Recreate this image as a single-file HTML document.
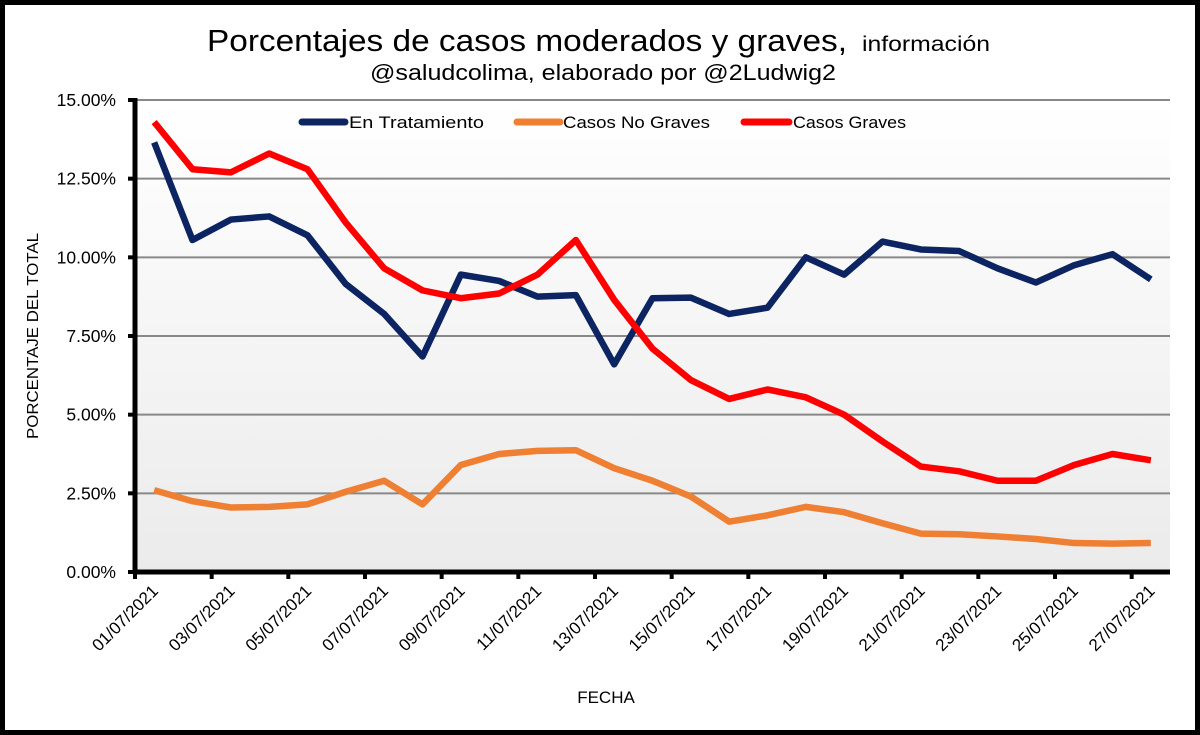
<!DOCTYPE html>
<html><head><meta charset="utf-8"><style>
html,body{margin:0;padding:0;background:#fff}
svg{display:block;font-family:"Liberation Sans",sans-serif}
</style></head><body>
<svg width="1200" height="735" viewBox="0 0 1200 735">
<defs><linearGradient id="bg" x1="0" y1="0" x2="0" y2="1"><stop offset="0" stop-color="#ffffff"/><stop offset="1" stop-color="#ebebeb"/></linearGradient></defs>
<rect x="2.5" y="2.5" width="1195" height="730" fill="#fff" stroke="#000" stroke-width="5"/>
<rect x="135" y="100" width="1035" height="472" fill="url(#bg)"/>
<text x="207" y="51" font-size="31" textLength="640" lengthAdjust="spacingAndGlyphs">Porcentajes de casos moderados y graves,</text>
<text x="862" y="51" font-size="21" textLength="128" lengthAdjust="spacingAndGlyphs">información</text>
<text x="370" y="80" font-size="22" textLength="466" lengthAdjust="spacingAndGlyphs">@saludcolima, elaborado por @2Ludwig2</text>
<g id="grid"></g>
<g id="series"></g>
<g id="axes"></g>
<g>
<line x1="302" y1="122" x2="345" y2="122" stroke="#0c2461" stroke-width="7" stroke-linecap="round"/>
<text x="349" y="128" font-size="17" textLength="135" lengthAdjust="spacingAndGlyphs">En Tratamiento</text>
<line x1="517" y1="122" x2="560" y2="122" stroke="#ef7f32" stroke-width="7" stroke-linecap="round"/>
<text x="563" y="128" font-size="17" textLength="147" lengthAdjust="spacingAndGlyphs">Casos No Graves</text>
<line x1="744" y1="122" x2="789" y2="122" stroke="#ff0000" stroke-width="7" stroke-linecap="round"/>
<text x="793" y="128" font-size="17" textLength="113" lengthAdjust="spacingAndGlyphs">Casos Graves</text>
</g>
<text transform="translate(38,336) rotate(-90)" text-anchor="middle" font-size="16" textLength="206" lengthAdjust="spacingAndGlyphs">PORCENTAJE DEL TOTAL</text>
<text x="606" y="703" text-anchor="middle" font-size="17">FECHA</text>
</svg>
<script>
const categories=['01/07/2021','02/07/2021','03/07/2021','04/07/2021','05/07/2021','06/07/2021','07/07/2021','08/07/2021','09/07/2021','10/07/2021','11/07/2021','12/07/2021','13/07/2021','14/07/2021','15/07/2021','16/07/2021','17/07/2021','18/07/2021','19/07/2021','20/07/2021','21/07/2021','22/07/2021','23/07/2021','24/07/2021','25/07/2021','26/07/2021','27/07/2021'];
const enTratamiento=[13.65,10.55,11.2,11.3,10.7,9.15,8.2,6.85,9.45,9.25,8.75,8.8,6.6,8.7,8.72,8.2,8.4,10.0,9.45,10.5,10.25,10.2,9.65,9.2,9.75,10.1,9.3];
const noGraves=[2.6,2.25,2.05,2.07,2.15,2.55,2.9,2.15,3.4,3.75,3.85,3.87,3.3,2.9,2.4,1.6,1.8,2.07,1.9,1.55,1.22,1.2,1.13,1.05,0.92,0.9,0.92];
const graves=[14.3,12.8,12.7,13.3,12.8,11.1,9.65,8.95,8.7,8.85,9.45,10.55,8.65,7.1,6.1,5.5,5.8,5.55,5.0,4.15,3.35,3.2,2.9,2.9,3.4,3.75,3.55];
const yTicks=[0,2.5,5,7.5,10,12.5,15];
const yTickLabels=['0.00%','2.50%','5.00%','7.50%','10.00%','12.50%','15.00%'];
const NS='http://www.w3.org/2000/svg';
const X0=135,X1=1170,Y0=572,Y1=100,YMAX=15;
const step=(X1-X0)/categories.length;
function xs(i){return X0+step*(i+0.5);}
function ys(v){return Y0-(v/YMAX)*(Y0-Y1);}
function mk(tag,attrs,parent){const e=document.createElementNS(NS,tag);for(const k in attrs)e.setAttribute(k,attrs[k]);parent.appendChild(e);return e;}
const grid=document.getElementById('grid'),axes=document.getElementById('axes'),ser=document.getElementById('series');
yTicks.forEach((t,i)=>{
  if(t>0){const g=mk('line',{x1:X0,x2:X1,y1:ys(t),y2:ys(t),stroke:'#888','stroke-width':2},grid);
  
  }
  const tk=mk('line',{x1:X0-7,x2:X0,y1:ys(t),y2:ys(t),stroke:'#000','stroke-width':4},axes);
  
  
  const tx=mk('text',{x:116,y:ys(t)+6,'text-anchor':'end','font-size':17.5},axes);
  tx.textContent=yTickLabels[i];
  
  
});
const ya=mk('line',{x1:X0,x2:X0,y1:Y1-2,y2:Y0+2,stroke:'#000','stroke-width':5},axes);


const xa=mk('line',{x1:X0-2,x2:X1,y1:Y0,y2:Y0,stroke:'#000','stroke-width':5},axes);


for(let i=0;i<=categories.length;i+=2){
  const tk=mk('line',{x1:X0+step*i,x2:X0+step*i,y1:Y0,y2:Y0+7,stroke:'#000','stroke-width':4},axes);
  
  
}
categories.forEach((c,i)=>{
  if(i%2)return;
  const x=xs(i);
  const tx=mk('text',{x:0,y:0,'text-anchor':'end','font-size':17,transform:`translate(${x+5},${Y0+20}) rotate(-45)`},axes);
  tx.textContent=c;
  
  
});
[[noGraves,'#ef7f32','series-casos-no-graves'],[enTratamiento,'#0c2461','series-en-tratamiento'],[graves,'#ff0000','series-casos-graves']].forEach(([d,col,name])=>{
  const p=mk('polyline',{points:d.map((v,i)=>xs(i)+','+ys(v)).join(' '),fill:'none',stroke:col,'stroke-width':6.5,'stroke-linejoin':'round'},ser);
  
  
});
</script>
</body></html>
